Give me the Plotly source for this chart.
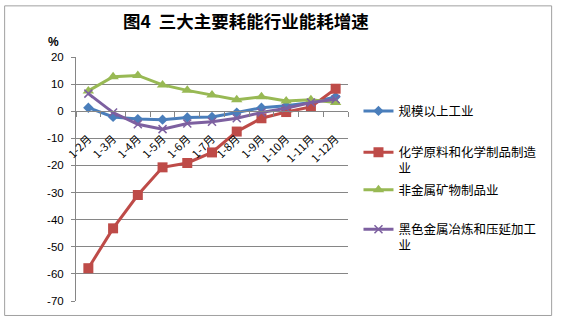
import plotly.graph_objects as go

categories = ["1-2月", "1-3月", "1-4月", "1-5月", "1-6月", "1-7月", "1-8月", "1-9月", "1-10月", "1-11月", "1-12月"]
above_scale = [1.3, -2.1, -2.9, -3.1, -2.3, -2.1, -0.5, 1.3, 2.0, 3.2, 5.3]
chemical = [-57.9, -43.2, -30.9, -20.7, -19.1, -15.2, -7.5, -2.6, -0.3, 1.6, 8.3]
nonmetal = [7.5, 12.7, 13.2, 9.7, 7.7, 6.0, 4.2, 5.3, 3.8, 4.2, 3.2]
ferrous = [6.5, -0.5, -4.8, -6.6, -4.5, -3.9, -2.6, -0.5, 1.1, 3.2, 4.4]
series_names = ["规模以上工业", "化学原料和化学制品制造<br>业", "非金属矿物制品业", "黑色金属冶炼和压延加工<br>业"]
y_ticks = [20, 10, 0, -10, -20, -30, -40, -50, -60, -70]

W, H = 561, 321
L, R, T, B = 76, 348.5, 56.7, 301
CJK = "Noto Sans CJK SC, Liberation Sans, sans-serif"

pw = R - L
ph = B - T
def px_x(v):
    return (v - L) / pw
def px_y(v):
    return (B - v) / ph

styles = [
    dict(color="#4A7EBB", symbol="diamond", size=8),
    dict(color="#BE4B48", symbol="square", size=10),
    dict(color="#98B954", symbol="triangle-up", size=10),
    dict(color="#7D60A0", symbol="x-thin", size=8),
]
legend_ids = ["legend", "legend2", "legend3", "legend4"]
legend_tops = [96, 137.5, 175, 214.5]

fig = go.Figure()
for i, (name, vals) in enumerate(zip(series_names, [above_scale, chemical, nonmetal, ferrous])):
    st = styles[i]
    marker = dict(symbol=st["symbol"], size=st["size"], color=st["color"])
    if st["symbol"] == "x-thin":
        marker["line"] = dict(color=st["color"], width=1.5)
    fig.add_trace(go.Scatter(
        x=categories, y=vals, name=name, mode="lines+markers",
        line=dict(color=st["color"], width=3), marker=marker,
        legend=legend_ids[i],
    ))

zero_pos = (0 - (-70)) / (20 - (-70))

layout_legends = {}
for lid, top in zip(legend_ids, legend_tops):
    layout_legends[lid] = dict(
        x=px_x(359), y=px_y(top), xanchor="left", yanchor="top",
        font=dict(family=CJK, size=12.5, color="black"),
        itemwidth=30, valign="top",
        bgcolor="rgba(0,0,0,0)",
    )

fig.update_layout(
    width=W, height=H,
    margin=dict(l=L, r=W - R, t=T, b=H - B),
    paper_bgcolor="white", plot_bgcolor="white",
    showlegend=True,
    xaxis=dict(
        type="category", range=[-0.5, 10.5],
        anchor="free", position=zero_pos,
        showline=True, linecolor="#868686", linewidth=1,
        ticks="outside", ticklen=5, tickcolor="#868686", tickson="boundaries",
        tickangle=-45, tickfont=dict(family=CJK, size=11, color="black"),
        ticklabelstandoff=16,
        showgrid=False, zeroline=False,
    ),
    yaxis=dict(
        range=[-70, 20], tickvals=y_ticks, ticktext=[str(v) for v in y_ticks],
        showline=True, linecolor="#868686", linewidth=1,
        ticks="outside", ticklen=4, tickcolor="#868686",
        showgrid=True, gridcolor="#868686", gridwidth=1,
        zeroline=False, ticklabelstandoff=5,
        tickfont=dict(family="Liberation Sans, Arial, sans-serif", size=11.5, color="black"),
    ),
    font=dict(family=CJK),
    **layout_legends,
)

fig.add_annotation(
    text="<b>图4  三大主要耗能行业能耗增速</b>", xref="paper", yref="paper",
    x=px_x(246), y=px_y(20), xanchor="center", yanchor="middle",
    showarrow=False, font=dict(family=CJK, size=17.5, color="black"),
)
fig.add_annotation(
    text="<b>%</b>", xref="paper", yref="paper",
    x=px_x(53), y=px_y(42), xanchor="center", yanchor="middle",
    showarrow=False, font=dict(family="Liberation Sans, Arial, sans-serif", size=12, color="black"),
)
fig.add_shape(
    type="rect", xref="paper", yref="paper",
    x0=px_x(4.5), x1=px_x(552.5), y0=px_y(315.5), y1=px_y(5.5),
    line=dict(color="#A0A0A0", width=1), fillcolor="rgba(0,0,0,0)", layer="below",
)

fig.write_html("out.html")
